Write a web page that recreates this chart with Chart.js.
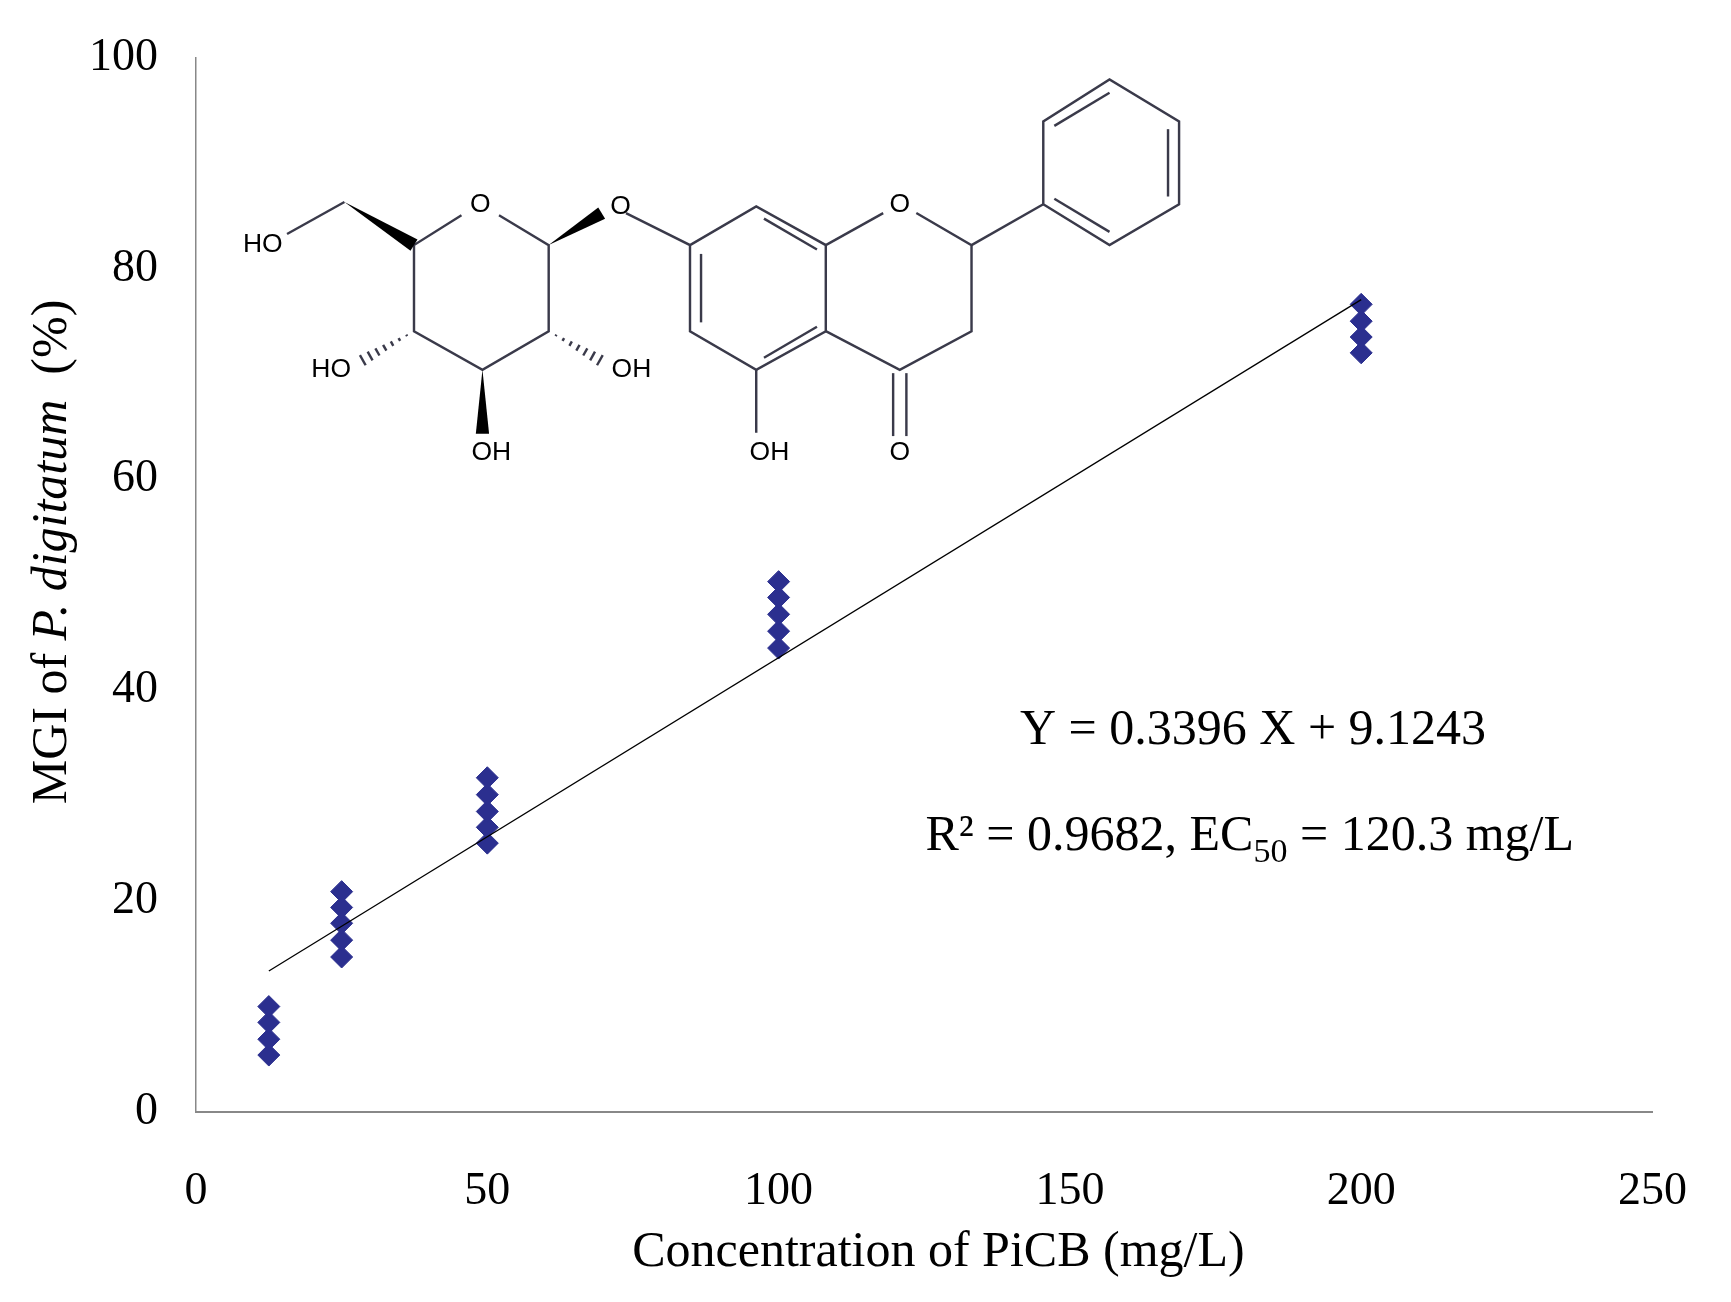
<!DOCTYPE html>
<html><head><meta charset="utf-8">
<script src="https://cdn.jsdelivr.net/npm/chart.js@4/dist/chart.umd.min.js"></script>
<style>html,body{margin:0;background:#fff}#wrap{width:1731px;height:1302px}</style>
</head><body><div id="wrap"><canvas id="c"></canvas></div>
<script>
// measured MGI values per concentration
const conc12 = [5.4, 6.9, 8.5, 10.0];
const conc25 = [14.7, 16.3, 17.9, 19.4, 20.9];
const conc50 = [25.5, 27.0, 28.5, 30.1, 31.7];
const conc100 = [44.0, 45.6, 47.2, 48.8, 50.3];
const conc200 = [72.0, 73.5, 75.0, 76.6];
const concentrations = [12.5, 25, 50, 100, 200];
const slope = 0.3396, intercept = 9.1243;
const xTicks = [0, 50, 100, 150, 200, 250];
const yTicks = [0, 20, 40, 60, 80, 100];

const groups = [conc12, conc25, conc50, conc100, conc200];
const points = [];
groups.forEach((g, i) => g.forEach(v => points.push({ x: concentrations[i], y: v })));
const fitLine = [12.5, 200].map(x => ({ x, y: slope * x + intercept }));

const SERIF = "'Liberation Serif', 'DejaVu Serif', serif";
const K = 1.104; // structure drawn in reference-display units

// chemical structure, titles and equation text
const extras = {
  id: "extras",
  afterDraw(chart) {
    const ctx = chart.ctx;
    ctx.save();
    ctx.fillStyle = "#000";
    ctx.font = "50px " + SERIF;
    ctx.textAlign = "center";
    ctx.textBaseline = "middle";
    ctx.fillText("Concentration of PiCB (mg/L)", 850 * K, 1135 * K);
    ctx.fillText("Y = 0.3396 X + 9.1243", 1135 * K, 662 * K);
    ctx.textAlign = "left";
    const s1 = "R² = 0.9682, EC", s2 = "50", s3 = " = 120.3 mg/L";
    ctx.font = "50px " + SERIF; const w1 = ctx.measureText(s1).width;
    ctx.font = "34px " + SERIF; const w2 = ctx.measureText(s2).width;
    ctx.font = "50px " + SERIF; const w3 = ctx.measureText(s3).width;
    let x0 = 1132 * K - (w1 + w2 + w3) / 2, yR = 758 * K;
    ctx.fillText(s1, x0, yR);
    ctx.font = "34px " + SERIF; ctx.fillText(s2, x0 + w1, yR + 16);
    ctx.font = "50px " + SERIF; ctx.fillText(s3, x0 + w1 + w2, yR);
    ctx.translate(48 * K, 500 * K);
    ctx.rotate(-Math.PI / 2);
    const a = "MGI of ", b = "P. digitatum", c = "  (%)";
    ctx.font = "50px " + SERIF; const wa = ctx.measureText(a).width, wc = ctx.measureText(c).width;
    ctx.font = "italic 50px " + SERIF; const wb = ctx.measureText(b).width;
    let sx = -(wa + wb + wc) / 2;
    ctx.font = "50px " + SERIF; ctx.fillText(a, sx, 0);
    ctx.font = "italic 50px " + SERIF; ctx.fillText(b, sx + wa, 0);
    ctx.font = "50px " + SERIF; ctx.fillText(c, sx + wa + wb, 0);
    ctx.restore();

    ctx.save();
    ctx.scale(K, K);
    ctx.strokeStyle = "#3a3a4a"; ctx.fillStyle = "#000"; ctx.lineWidth = 2.2;
    const L = (pts) => { ctx.beginPath(); ctx.moveTo(...pts[0]); pts.slice(1).forEach(p => ctx.lineTo(...p)); ctx.stroke(); };
    const wedge = (p, q) => { const dx = q[0]-p[0], dy = q[1]-p[1], l = Math.hypot(dx, dy), nx = -dy/l*6, ny = dx/l*6;
      ctx.beginPath(); ctx.moveTo(...p); ctx.lineTo(q[0]+nx, q[1]+ny); ctx.lineTo(q[0]-nx, q[1]-ny); ctx.closePath(); ctx.fill(); };
    const hash = (p, q) => { for (let i = 1; i <= 7; i++) { const t = i / 8, dx = q[0]-p[0], dy = q[1]-p[1], l = Math.hypot(dx, dy), w = 6*t;
      const cx = p[0]+dx*t, cy = p[1]+dy*t, nx = -dy/l*w, ny = dx/l*w; L([[cx+nx, cy+ny], [cx-nx, cy-ny]]); } };
    L([[418,195],[375,222],[375,300],[437,335],[497,300],[497,222],[452,195]]);
    L([[260,212],[312,183]]); wedge([312,183],[375,222]);
    wedge([497,222],[545,193]);
    wedge([437,335],[437,393]);
    hash([375,300],[322,330]); hash([497,300],[550,330]);
    L([[567,193],[625,222],[625,300],[685,335],[748,300],[748,222],[685,187],[625,222]]);
    L([[635,230],[635,292]]); L([[692,198],[740,226]]); L([[692,324],[740,296]]);
    L([[748,222],[800,193]]); L([[830,193],[880,222],[880,300],[815,335],[748,300]]);
    L([[685,335],[685,392]]);
    L([[809,338],[809,395]]); L([[821,338],[821,395]]);
    L([[880,222],[945,185]]);
    L([[945,185],[945,110],[1005,72],[1068,110],[1068,185],[1005,222],[945,185]]);
    L([[1058,117],[1058,178]]); L([[1005,84],[955,114]]); L([[1005,210],[955,180]]);
    ctx.font = "24px 'Liberation Sans', Arial, sans-serif"; ctx.textAlign = "center"; ctx.textBaseline = "middle";
    [["O",435,185],["O",562,187],["O",815,185],["HO",238,222],["HO",300,335],["OH",572,335],["OH",445,410],["OH",697,410],["O",815,410]]
      .forEach(t => ctx.fillText(t[0], t[1], t[2]));
    ctx.restore();
  }
};

new Chart(document.getElementById("c"), {
  type: "scatter",
  data: {
    datasets: [
      { type: "line", data: fitLine, borderColor: "#000", borderWidth: 1.3, pointRadius: 0, fill: false },
      { data: points, pointStyle: "rectRot", pointRadius: 11, backgroundColor: "#2b2f8f", borderColor: "#2b2f8f" }
    ]
  },
  options: {
    responsive: true, maintainAspectRatio: false, animation: false,
    layout: { padding: { left: 0, right: 19, top: 44, bottom: 0 } },
    plugins: { legend: { display: false }, tooltip: { enabled: false } },
    scales: {
      x: {
        type: "linear", min: 0, max: 250,
        afterFit: s => { s.height = 190; },
        afterBuildTicks: s => { s.ticks = xTicks.map(v => ({ value: v })); },
        grid: { display: false },
        border: { color: "#888", width: 2 },
        ticks: { color: "#000", padding: 44, font: { family: SERIF, size: 46 } }
      },
      y: {
        min: 0, max: 100,
        afterFit: s => { s.width = 196; },
        afterBuildTicks: s => { s.ticks = yTicks.map(v => ({ value: v })); },
        grid: { display: false },
        border: { color: "#888", width: 1.5 },
        ticks: { color: "#000", padding: 30, font: { family: SERIF, size: 46 } }
      }
    }
  },
  plugins: [extras]
});
</script></body></html>
